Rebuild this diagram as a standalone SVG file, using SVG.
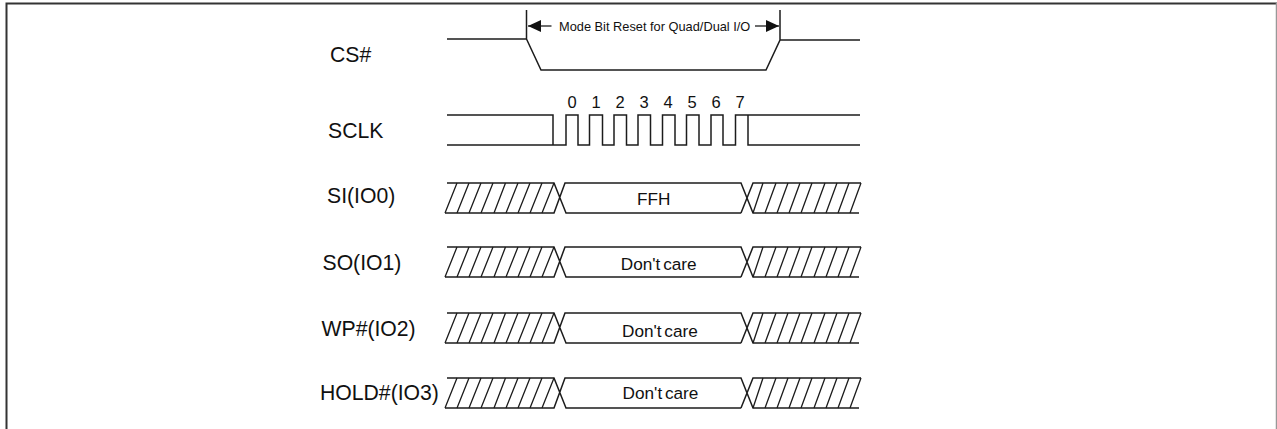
<svg xmlns="http://www.w3.org/2000/svg" width="1277" height="429" viewBox="0 0 1277 429">
<style>
.w{fill:none;stroke:#1c1c1c;stroke-width:1.5}
.f{fill:none;stroke:#333;stroke-width:2}
.h{fill:none;stroke:#1c1c1c;stroke-width:1.3}
text{font-family:"Liberation Sans",Arial,sans-serif;fill:#111}
.l{font-size:21.2px}
.d{font-size:17.2px;text-anchor:middle;word-spacing:-2px}
.n{font-size:16.5px;text-anchor:middle}
.m{font-size:12.8px}
</style>
<defs>
<marker id="a" markerWidth="14" markerHeight="12" refX="13" refY="6" orient="auto" markerUnits="userSpaceOnUse"><path d="M0 0L13 6L0 12z" fill="#111"/></marker>
<g id="bus">
<path class="w" d="M447 0H554L566 30H741M445 30H554L565 0H741L753 30H859M741 30L753 0H861"/>
<path class="h" d="M457 0L445 30M469 0L457 30M481 0L469 30M493 0L481 30M505.500 0L494 30M518 0L506 30M530 0L518 30M542 0L530 30M554 0L542 30M763 0L753 30M776 0L765 30M788 0L777 30M800 0L789 30M812 0L801 30M825 0L814 30M837 0L826 30M849 0L838 30M861 0L850 30"/>
</g>
</defs>
<rect width="1277" height="429" fill="#fff"/>
<path class="f" d="M6.500 429V3.500H1277"/>
<path d="M1276.500 3V429" fill="none" stroke="#999" stroke-width="1.500"/>
<g id="connectors">
<path class="h" d="M551.500 26H528" marker-end="url(#a)"/>
<path class="h" d="M755 26H779" marker-end="url(#a)"/>
</g>
<g id="cs"><text class="l" x="330" y="62">CS#</text>
<path class="w" d="M447 39H526.500V10M526.500 39L541 70H766L780 40V10M780 40H860"/>
<text class="m" x="559" y="30.500">Mode Bit Reset for Quad/Dual I/O</text></g>
<g id="sclk"><text class="l" x="328" y="138">SCLK</text>
<path class="w" d="M447 115H553V145H566V115H578V145H589.500V115H602.500V145H614V115H626.500V145H638V115H650.500V145H662.500V115H675V145H686.500V115H699V145H711V115H723V145H735.500V115H748V145H860M447 145H553M748 115H860"/>
<text class="n" x="572" y="108">0</text><text class="n" x="596" y="108">1</text><text class="n" x="620" y="108">2</text><text class="n" x="644" y="108">3</text><text class="n" x="668" y="108">4</text><text class="n" x="692" y="108">5</text><text class="n" x="716" y="108">6</text><text class="n" x="740" y="108">7</text></g>
<g id="si"><text class="l" x="327" y="203">SI(IO0)</text><use href="#bus" y="183"/><text class="d" x="653.800" y="204.500">FFH</text></g>
<g id="so"><text class="l" x="322.500" y="270">SO(IO1)</text><use href="#bus" y="247"/><text class="d" x="658.700" y="270">Don't care</text></g>
<g id="wp"><text class="l" x="321.500" y="335.500">WP#(IO2)</text><use href="#bus" y="313"/><text class="d" x="659.900" y="337">Don't care</text></g>
<g id="hold"><text class="l" x="320" y="399.500">HOLD#(IO3)</text><use href="#bus" y="378"/><text class="d" x="660.500" y="399">Don't care</text></g>
</svg>
